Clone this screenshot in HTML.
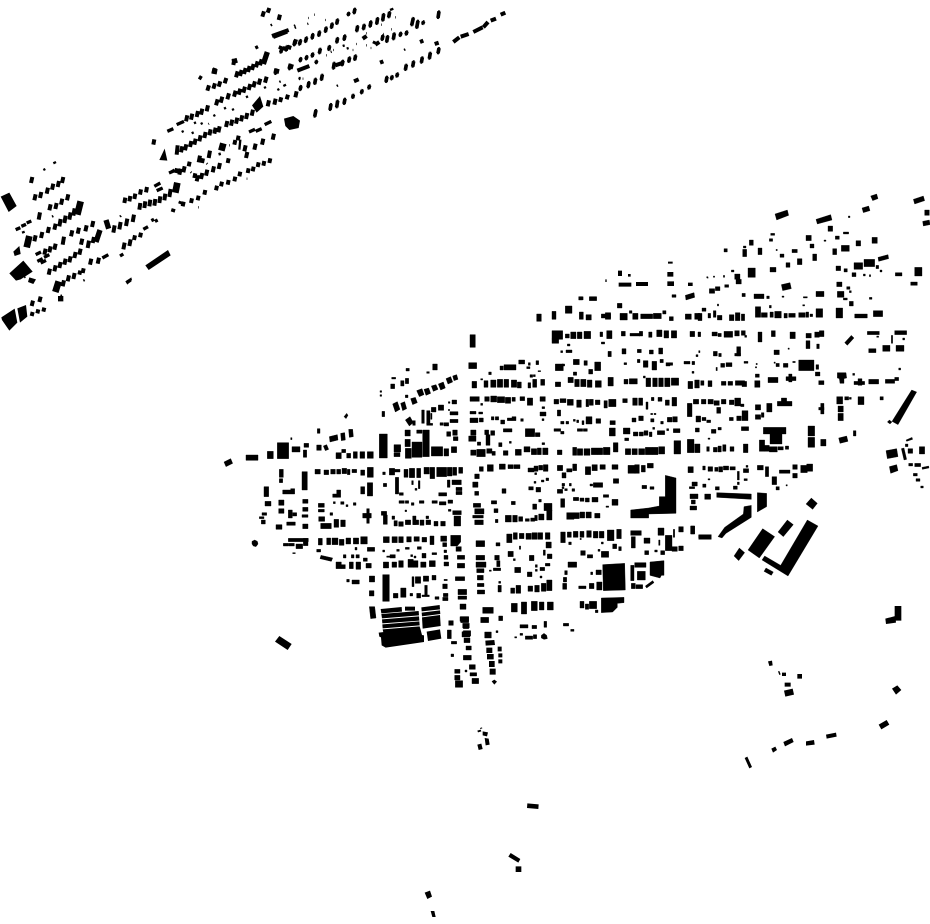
<!DOCTYPE html>
<html><head><meta charset="utf-8"><style>html,body{margin:0;padding:0;background:#fff}svg{display:block}</style></head><body>
<svg width="930" height="924" viewBox="0 0 930 924" xmlns="http://www.w3.org/2000/svg">
<rect width="930" height="924" fill="#fff"/>
<!-- NW cluster, zoom 1 coordinates -->
<g transform="scale(.33333)" fill="none" stroke="#000">
<path stroke-width="12" d="M93 549l4-18M103 601l4-18M120 594l4-18M140 581l4-18M156 569l4-18M173 561l4-18M186 549l4-18M148 631l4-18M166 627l4-18M183 614l4-18M201 601l4-18M116 659l4-22M103 724l4-18M123 714l4-18M143 699l4-18M163 689l4-18M178 679l4-22M193 669l4-22M208 659l4-22M220 647l4-22M133 764l4-18M148 757l4-18M163 749l4-18M188 734l4-24M213 709l4-18M233 701l4-18M256 694l4-18M276 681l4-18M243 734l4-18M263 744l4-22M278 729l4-18M146 824l4-18M163 814l4-18M178 804l4-18M193 794l4-18M208 787l4-18M223 774l4-18M238 764l4-18M270 794l4-18M293 791l4-18M188 859l4-18M203 844l4-18M220 837l4-18M248 819l3-14M238 824l3-12M95 918l4-16M118 906l4-16M95 948l3-12M112 940l3-12M130 935l3-12M558 364l4-18M573 359l4-18M590 351l4-18M603 344l4-18M620 334l4-18M678 381l4-18M693 377l4-18M708 371l4-18M723 364l4-18M738 357l4-18M755 347l4-18M803 319l4-18M823 314l4-18M530 464l3-28M543 457l4-18M555 451l4-18M570 441l4-18M583 434l4-18M598 424l4-18M613 414l4-18M628 406l4-18M643 401l4-18M655 397l4-18M528 519l3-14M538 524l4-18M550 517l4-18M566 499l3-14M596 487l4-20M626 474l4-22M606 489l3-14M713 421l3-14M703 434l3-14M733 454l4-18M763 449l4-18M786 434l4-18M818 419l4-18M738 474l4-18M583 534l3-14M590 544l4-18M603 537l4-18M618 527l4-18M638 517l4-18M656 507l4-18M683 489l3-14M548 619l3-14M573 609l3-14M593 601l3-14M613 584l3-14M648 571l3-14M663 559l3-14M683 554l3-14M703 544l3-14M718 529l3-14M743 519l3-14M758 514l3-14M773 501l3-14M790 497l3-14M808 489l3-14M373 609l3-16M388 604l3-16M403 597l3-16M420 584l3-16M438 577l3-16M418 629l3-20M433 624l3-20M448 619l3-20M463 617l3-20M478 609l3-20M493 601l3-20M508 591l4-24M340 698l4-22M358 688l4-22M378 678l4-22M398 666l4-22M370 748l4-20M388 738l4-20M402 720l3-14M420 712l3-14M787 50l5-16M803 38l5-14M836 60l4-16M708 232l5-18M720 228l5-18M732 222l5-18M744 216l5-18M756 210l5-18M768 202l5-18M780 196l5-18M640 220l5-16M700 195l3-18M622 272l5-16M640 266l5-16M656 260l5-16M674 250l5-16M648 316l5-18M662 308l5-18M682 298l5-18M702 290l5-18M716 284l5-18M730 278l5-18M746 270l5-18M760 262l5-18M776 254l5-18M795 248l5-18M840 306l4-14M860 298l4-14M886 292l4-18M518 636l3-10M540 612l3-8M460 434l3-16M840 148l4-10M852 152l4-12M866 148l4-12M884 132l4-14"/>
<path stroke-width="20" d="M80 742l8-34M232 644l10-40M166 876l10-32M526 578l6-30M664 452l6-22"/>
<path stroke-width="16" d="M288 726l12-36M318 660l8 26M790 192l12-36M706 190l-4-14M642 222l3-16M828 220l3-14M870 206l4-14"/>
<path stroke-width="10" d="M122 789l16-8M132 772l16-8M112 784l16-8M307 774l18-10M107 764l16-8M47 689l14-6M64 679l14-6M80 669l14-6M502 394l18-8M530 374l22-10M747 396l18-8M767 394l18-8M794 374l20-10M507 519l14-6M463 559l18-10M470 572l18-8M430 688l14-8M454 662l8-4M465 664l8-4M820 112l42-16M570 634l0 0M360 768l10-6M380 848l12-8M514 516l10-6M598 238l6-10M766 144l8-4"/>
<path stroke-width="7" d="M718 449l3-30M596 534l3-8M360 650l3-3M250 842l4-2M182 888l4-2M545 396l6-3M575 400l6-3M582 370l6-3M602 372l6-3M625 372l2-1M640 348l6-3M672 326l6-3M696 330l6-3M738 292l6-3M792 264l6-3M832 270l6-3M850 258l8-4M838 246l4-2M812 76l4-2M884 84l4-2M896 238l4-2M658 458l2 8M688 436l2 0M600 478l2 2M620 490l2 2M572 516l2 2M740 536l2 0M594 622l2 0M72 832l4-2M66 698l8-3M156 650l4-2M130 510l6-3M160 490l8-4"/>
</g>
<g transform="scale(.33333)" fill="#000">
<path d="M2 590L28 578 50 618 26 636zM28 820L70 782 98 815 62 838 48 842zM88 832L108 838 100 852 84 846zM40 755L58 738 62 762 44 768zM4 952L44 926 52 968 28 992 6 960zM52 925L78 915 82 950 60 968zM436 796L504 750 512 766 446 810zM376 844L394 832 396 840 382 854zM852 356L880 348 900 362 896 384 868 390 856 378zM756 316L780 288 790 320 770 338zM478 480L494 446 502 482zM174 888h16v16h-16zM150 680h0z"/>
</g>
<!-- NE part of NW cluster, zoom 2 coordinates -->
<g transform="translate(220 0) scale(.33333)" fill="none" stroke="#000" stroke-width="11">
<path id="z2" d="M182 158l4-14M198 152l4-14M222 136l3-14M238 134l4-14M256 126l4-14M276 116l3-14M296 108l3-14M316 96l3-14M334 84l3-14M350 72l3-14M166 222l3-14M208 208l3-14M240 184l3-10M258 178l3-10M276 170l3-10M298 160l3-14M326 150l3-12M350 128l3-14M372 120l3-14M288 190l2-8M340 206l3-18M366 196l3-14M386 186l3-14M404 180l3-14M240 270l3-12M264 262l3-16M284 252l3-16M304 240l3-16M284 350l4-20M330 330l3-18M350 322l3-20M372 312l3-16M398 294l2-10M424 280l3-10M446 266l3-10M498 246l3-16M514 238l3-10M530 230l3-10M556 210l3-16M578 200l3-16M604 188l3-16M628 176l3-18M654 160l3-16M410 94l3-16M430 88l3-14M450 80l3-16M470 72l3-18M488 62l3-20M506 52l3-16M486 120l3-14M500 126l3-18M520 118l3-18M540 108l3-10M558 104l3-10M575 76l5-22M590 84l4-22M608 72l3-8M654 54l3-20M384 46l3-8M402 40l3-14"/>
<use href="#z2" stroke-width="6" stroke-linecap="square"/>
<path stroke-width="12" d="M156 108l50-18M232 212l36-14M346 196l24-8M700 126l18-14M722 110l24-8M760 96l28-14M790 82l14-16M812 62l16-6M842 44l14-6M600 126l10-4M644 132l12-4M480 188l10-4M402 244l14-6M428 116l12-8M462 132l4-8M466 134l12-8"/>
<path stroke-width="7" d="M152 76l4-2M108 144l6-3M222 78l4-2M262 72l3-1M282 44l2 0M264 54l2 0M316 60l2 0M510 30l10-4M526 52l2 0M350 258l4-2M408 132l2 0M438 100l2 0M430 110l2 0M484 74l2 0M490 102l2 0M514 88l2 0M552 150l4-2M438 136l2 0M452 144l2 0M318 166l2 0M332 156l3-1M340 150l2 0M368 138l6-2M380 146l6-2M398 150l2 0M236 234l6 0M248 236l2 0"/>
</g>
<!-- Central cluster west, zoom 3 coordinates -->
<g transform="translate(220 350) scale(.33333)" fill="#000" stroke="#000" stroke-width="1.2">
<path d="M558 55h10v8h-10zM620 65h8v5h-8zM638 42h14v18h-14zM515 82h12v5h-12zM512 102h12v14h-12zM542 92h10v16h-10zM556 85h10v16h-10zM480 122h5v5h-5zM480 134h5v5h-5z
M518 162L532 155 540 178 526 186zM542 160L554 155 560 176 548 182zM556 135h8v8h-8zM572 146L586 142 592 158 578 164zM590 122L606 116 612 134 598 140zM612 118L626 114 632 130 618 136zM634 108L648 104 654 118 640 124zM655 102L670 96 676 114 662 120zM678 86L692 80 698 96 684 102zM698 78L710 74 714 88 702 92z
M696 150h14v12h-14zM685 155h5v5h-5zM655 165h16v16h-16zM634 172h14v14h-14zM690 185h24v10h-24zM690 208h24v10h-24zM685 178h4v4h-4zM605 180h8v40h-8zM620 182h10v40h-10zM632 190h4v18h-4zM486 184h8v16h-8zM372 200l8-10 4 6-6 10z
M556 210L570 200 580 218 568 228zM578 212h8v14h-8zM660 218h10v8h-10zM672 218h14v10h-14zM620 220h18v6h-18zM292 236h8v14h-8zM555 240h16v18h-16zM590 240h16v10h-16zM608 240h20v80h-20zM680 245h12v14h-12zM698 240h14v16h-14zM700 260h14v12h-14z
M386 238h12l2 22-12 2zM362 250l12-2 2 22-12 2zM328 260l24-6 2 16-24 6zM310 288l10-4 6 14-10 4zM290 285h14v16h-14zM212 263h4v6h-4zM252 280h14v12h-14zM172 278h34v48h-34zM216 290h24v16h-24zM78 315h36v16h-36zM142 304h18v22h-18zM12 336L32 326 38 340 18 350zM250 300h10v22h-10zM478 252h24v72h-24zM522 284h20v22h-20zM522 308h18v12h-18zM555 268h16v22h-16zM556 295h18v30h-18zM576 276h30v46h-30zM634 290h34v28h-34zM672 296h14v22h-14zM694 290h16v18h-16zM348 308h16v18h-16zM365 298h12v10h-12zM380 310h12v14h-12zM400 305h12v20h-12zM420 305h14v20h-14zM442 305h18v20h-18z
M285 358h16v14h-16zM312 360h14v14h-14zM332 358h14v14h-14zM350 358h12v14h-12zM366 355h14v16h-14zM382 358h8v16h-8zM396 358h14v10h-14zM422 360h12v16h-12zM442 352h18v30h-18zM488 366h8v8h-8zM508 355h16v20h-16zM524 358h16v8h-16zM552 358h12v24h-12zM568 355h16v28h-16zM590 355h12v28h-12zM612 352h16v20h-16zM630 352h14v34h-14zM650 352h30v28h-30zM682 352h14v26h-14zM698 352h12v24h-12zM716 352h12v18h-12zM178 358h12v24h-12zM178 386h10v12h-10zM246 365h16v55h-16zM132 410h14v30h-14zM422 410h12v22h-12zM442 398h16v40h-16zM490 400h10v10h-10zM526 382h10v50h-10zM538 428h12v8h-12zM575 392h5v12h-5zM595 392h5v24h-5zM585 415h6v6h-6zM682 390h8v22h-8zM696 390h28v14h-28zM708 412h18v10h-18zM708 424h18v10h-18zM656 428h24v10h-24zM188 420h24v12h-24zM212 416h12v16h-12zM350 420h12v22h-12zM338 432h14v10h-14zM135 454h18v14h-18zM176 450h16v16h-16zM248 448h16v12h-16zM340 455h6v6h-6zM362 455h10v8h-10zM378 464h6v6h-6zM400 458h8v8h-8zM295 460h18v12h-18zM295 478h18v8h-18zM330 488h8v8h-8zM296 500h18v14h-18zM537 452h16v8h-16zM556 452h10v8h-10zM574 458h8v8h-8zM598 452h14v8h-14zM636 452h16v8h-16zM658 455h20v10h-20zM684 450h14v10h-14zM126 488h14v8h-14zM118 500h14v6h-14zM124 510h12v12h-12zM176 476h16v14h-16zM205 480h12v24h-12zM218 488h12v10h-12zM248 472h16v12h-16zM246 494h18v8h-18zM440 476h8v44h-8zM428 490h26v14h-26zM484 484h16v12h-16zM490 495h12v28h-12zM516 498h8v10h-8zM522 512h10v16h-10zM536 515h14v14h-14zM556 510h16v14h-16zM578 498h10v26h-10zM580 510h16v14h-16zM600 510h12v16h-12zM618 498h8v8h-8zM618 510h14v14h-14zM642 514h12v14h-12zM662 514h14v14h-14zM702 498h20v30h-20zM685 478h8v6h-8zM698 482h26v12h-26zM555 480h5v5h-5zM200 516h26v10h-26zM168 524h18v14h-18zM248 522h16v14h-16zM302 520h32v16h-32zM342 508h14v24h-14zM362 510h14v20h-14z
M205 565h60v10h-60zM250 565h14v22h-14zM190 580h14v8h-14zM205 580h18v8h-18zM228 582h20v14h-20zM218 608h8v3h-8zM96 574l8-4 8 4 2 8-6 8-8-2-4-6zM295 565h12v20h-12zM320 564h12v20h-12zM336 564h18v20h-18zM358 568h14v18h-14zM378 564h14v18h-14zM400 564h16v18h-16zM422 560h20v22h-20zM490 560h18v18h-18zM516 560h16v18h-16zM536 560h14v18h-14zM560 560h14v16h-14zM582 560h16v14h-16zM606 562h14v14h-14zM630 558h12v26h-12zM662 558h18v16h-18zM692 556h30v20l-10 12h-20zM668 578h12v12h-12zM708 590h16v14h-16zM672 600h8v8h-8zM290 598h12v8h-12zM405 592h6v8h-6zM442 592h22v12h-22zM488 600h6v6h-6zM530 598h8v6h-8zM556 592h12v6h-12zM592 590h12v8h-12z
M303 616L338 624 334 634 300 626zM370 614h8v10h-8zM394 614h8v10h-8zM408 614h10v10h-10zM430 624h12v10h-12zM510 614h16v10h-16zM500 618h10v4h-10zM572 614h6v6h-6zM582 618h6v6h-6zM606 610h12v14h-12zM636 608h14v6h-14zM672 616h12v12h-12zM712 616h22v12h-22zM348 636h16v20h-16zM364 644h12v12h-12zM388 636h12v20h-12zM408 636h14v22h-14zM438 640h16v14h-16zM490 636h16v18h-16zM516 636h14v16h-14zM536 632h14v20h-14zM564 628h16v24h-16zM580 632h14v20h-14zM602 636h16v16h-16zM628 632h18v18h-18zM672 636h14v12h-14zM712 640h22v14h-22zM380 688h8v8h-8zM396 690h22v12h-22zM448 678h16v18h-16zM448 722h14v16h-14zM488 674h20v80h-20zM576 680h6v30h-6zM586 680h16v20h-16zM610 678h16v16h-16zM636 676h12v14h-12zM672 688h10v4h-10zM668 702h14v14h-14zM706 680h28v12h-28zM542 714h16v28h-16zM520 730h14v14h-14zM570 730h8v8h-8zM590 730h12v14h-12zM614 706h8v30h-8zM606 735h22v5h-22zM645 740h12v8h-12zM670 730h14v10h-14zM668 742h16v10h-16zM714 718h26v16h-26zM714 738h26v10h-26zM720 762h18v16h-18z
M448 770h16l4 34-16 2z"/>
<path stroke="none" d="M482 777L545 771 546 785 484 790zM555 770h30v12h-30zM484 792L596 783 597 796 486 805zM486 808L597 799 598 812 487 820zM487 823L598 814 599 826 488 835zM488 838L599 829 600 838 490 847zM604 772L659 765 660 778 605 784zM605 788L660 781 661 792 606 799zM606 802L660 795 662 828 608 836zM620 845L660 838 664 866 624 873zM476 848L600 832 606 855 612 856 612 876 497 893 485 886 483 862 478 860zM178 858L215 882 203 900 165 875z"/>
<path d="M686 812h14v14h-14zM682 840h12v26h-12zM694 874h16v8h-16zM693 912h8v8h-8zM722 800h24v18h-24zM730 822h16v14h-16zM726 845h24v16h-24zM732 864h18v14h-18zM738 888h16v12h-16zM730 916h24v14h-24zM748 944h18v14h-18zM750 968h20v10h-20zM756 985h20v16h-20zM735 960h6v6h-6zM704 958h16v12h-16zM704 976h16v14h-16zM706 992h22v20h-22z"/>
</g>
<!-- Central cluster, zoom 4 coordinates -->
<g transform="translate(460 290) scale(.33333)" fill="#000" stroke="#000" stroke-width="1.2">
<path d="M356 20h12v10h-12zM388 20h22v12h-22zM636 14h12v8h-12zM676 16l26-8 2 14-26 8zM472 40h14v14h-14zM316 48h20v22h-20zM230 72h14v22h-14zM276 64h12v24h-12zM358 66h12v22h-12zM378 74h16v16h-16zM424 72h28v12h-28zM436 68h16v20h-16zM480 70h22v20h-22zM508 62h8v8h-8zM518 70h16v18h-16zM542 72h36v14h-36zM580 70h24v16h-24zM608 62h10v10h-10zM628 80h12v12h-12zM676 72h18v16h-18zM704 70h16v18h-16z
M30 134h16v38h-16zM276 122h32v26h-32zM276 146h20v14h-20zM316 132h12v12h-12zM332 126h16v20h-16zM352 126h14v20h-14zM372 124h20v22h-20zM420 126h8v14h-8zM440 122h16v24h-16zM484 124h12v14h-12zM510 130h30v8h-30zM538 124h10v14h-10zM566 126h10v16h-10zM590 120h16v20h-16zM612 122h14v22h-14zM634 122h16v22h-16zM690 124h14v16h-14zM714 126h8v14h-8zM424 156h10v6h-10zM322 162h8v6h-8zM302 182h6v6h-6zM318 180h18v8h-18zM444 184h10v16h-10zM486 176h12v16h-12zM532 178h12v10h-12zM568 180h12v12h-12zM596 174h12v18h-12zM716 182h4v6h-4z
M26 218h24v18h-24zM176 210h18v12h-18zM120 228h10v12h-10zM132 224h36v16h-36zM205 218h6v8h-6zM228 212h8v12h-8zM200 230h10v6h-10zM234 242h8v3h-8zM286 222h24v20h-24zM306 222h8v6h-8zM340 208h18v16h-18zM372 212h10v14h-10zM404 216h18v26h-18zM492 218h8v6h-8zM532 208h8v10h-8zM550 212h14v20h-14zM576 214h14v26h-14zM600 208h10v10h-10zM618 218h12v10h-12zM630 218h8v8h-8zM672 214h18v8h-18zM696 214h8v10h-8zM708 194h6v6h-6zM86 246h8v8h-8zM340 246h10v10h-10zM386 238h12v14h-12zM696 244h6v6h-6zM210 254h8v8h-8zM220 254h6v6h-6z
M36 274h14v20h-14zM62 266h6v4h-6zM72 272h12v20h-12zM92 270h16v22h-16zM112 268h16v24h-16zM132 268h14v24h-14zM154 270h16v22h-16zM172 276h12v18h-12zM204 278h8v16h-8zM218 268h12v24h-12zM242 268h12v18h-12zM286 276h16v14h-16zM324 262h16v16h-16zM344 268h14v22h-14zM362 268h16v22h-16zM382 270h14v22h-14zM406 272h18v20h-18zM444 262h16v26h-16zM492 268h12v14h-12zM508 266h24v16h-24zM550 258h6v6h-6zM558 264h14v26h-14zM578 264h14v26h-14zM596 264h14v26h-14zM614 264h16v26h-16zM634 264h22v22h-22zM684 274h14v22h-14zM704 270h14v24h-14z
M30 320h28v14h-28zM74 320h14v14h-14zM92 318h18v18h-18zM112 320h22v18h-22zM136 322h16v18h-16zM156 322h10v12h-10zM180 320h14v12h-14zM202 324h16v22h-16zM240 320h16v14h-16zM282 328h14v14h-14zM300 326h18v12h-18zM322 328h18v18h-18zM350 330h14v22h-14zM378 328h8v22h-8zM388 328h12v18h-12zM406 330h14v14h-14zM432 332h10v22h-10zM446 328h22v22h-22zM488 326h14v12h-14zM518 324h14v22h-14zM536 324h12v22h-12zM574 322h8v10h-8zM558 336h6v22h-6zM594 322h12v12h-12zM616 330h12v16h-12zM636 322h14v26h-14zM700 328h16v14h-16zM682 340h14v40h-14z
M62 340h6v6h-6zM246 350h8v6h-8zM30 364h18v8h-18zM56 366h12v6h-12zM240 366h18v12h-18zM292 360h10v18h-10zM572 370h6v4h-6zM582 370h6v4h-6zM30 384h24v14h-24zM58 384h12v12h-12zM94 380h8v10h-8zM106 380h10v10h-10zM122 390h12v12h-12zM142 384h14v8h-14zM156 380h12v12h-12zM182 386h8v8h-8zM246 386h6v6h-6zM302 394h10v8h-10zM318 394h8v8h-8zM340 388h6v6h-6zM350 390h6v8h-6zM366 392h6v12h-6zM378 380h18v22h-18zM408 386h14v14h-14zM450 392h16v12h-16zM516 384h12v12h-12zM536 378h14v14h-14zM572 386h10v10h-10zM602 394h8v8h-8zM622 382h14v14h-14zM638 380h14v16h-14zM708 378h14v18h-14z
M130 416h26v10h-26zM196 416h28v24h-28zM226 428h14v12h-14zM282 416h20v8h-20zM302 424h10v8h-10zM352 416h16v8h-16zM370 416h12v8h-12zM448 414h18v24h-18zM490 414h20v18h-20zM520 426h14v12h-14zM538 426h12v12h-12zM552 422h12v14h-12zM568 426h8v14h-8zM578 412h6v6h-6zM592 422h22v12h-22zM620 416h6v6h-6zM640 416h20v12h-20zM706 414h12v12h-12zM32 420h16v16h-16zM74 420h12v14h-12zM92 422h12v14h-12zM26 438h22v16h-22zM78 434h12v32h-12zM52 456h10v10h-10zM116 458h10v12h-10zM148 454h6v6h-6zM246 458h8v6h-8zM494 444h12v8h-12z
M32 480h16v16h-16zM50 478h26v22h-26zM80 476h16v14h-16zM96 484h10v12h-10zM130 482h14v14h-14zM166 478h18v18h-18zM192 470h18v16h-18zM214 476h16v18h-16zM232 474h12v20h-12zM248 474h16v20h-16zM292 480h14v14h-14zM338 472h12v24h-12zM352 476h16v20h-16zM372 476h18v20h-18zM394 474h18v20h-18zM412 474h16v20h-16zM430 472h20v22h-20zM460 458h14v28h-14zM496 476h16v18h-16zM516 476h16v18h-16zM536 476h18v18h-18zM556 472h22v22h-22zM578 472h16v22h-16zM596 470h18v22h-18zM642 452h20v40h-20zM682 448h20v40h-20zM704 462h16v26h-16z
M58 530h12v14h-12zM82 524h18v20h-18zM118 522h18v16h-18zM144 524h16v12h-16zM162 524h18v12h-18zM204 534h18v12h-18zM222 528h12v16h-12zM236 526h12v14h-12zM250 524h14v20h-14zM292 526h16v16h-16zM320 536h16v10h-16zM338 522h12v20h-12zM376 530h16v24h-16zM396 524h16v18h-16zM420 524h16v14h-16zM456 524h18v14h-18zM504 526h22v24h-22zM524 524h14v26h-14zM544 526h12v20h-12zM562 520h18v14h-18zM684 530h16v18h-16z
M44 552h14v14h-14zM224 548h6v6h-6zM306 548h12v16h-12zM258 564h8v8h-8zM244 570h8v6h-8zM222 574h6v6h-6zM38 576h16v16h-16zM306 580h8v8h-8zM328 580h6v8h-6zM390 582h8v6h-8zM400 578h28v14h-28zM460 566h16v14h-16zM546 586h14v10h-14zM570 590h12v8h-12zM696 576h16v12h-16zM688 590h16v6h-16zM206 590h14v10h-14zM228 592h14v14h-14zM306 590h6v6h-6zM292 598h16v12h-16zM314 596h8v6h-8zM336 596h8v8h-8zM44 604h12v12h-12zM126 596h12v14h-12z
M430 614h16v8h-16zM340 622h16v10h-16zM360 624h12v10h-12zM376 624h12v12h-12zM396 622h18v14h-18zM456 628h18v18h-18zM438 648h8v4h-8zM302 626h12v26h-12zM236 628h8v8h-8zM94 632h16v10h-16zM154 634h12v10h-12zM40 640h22v12h-22zM44 656h28v16h-28zM38 676h32v8h-32zM44 690h26v14h-26zM218 642h12v16h-12zM252 640h24v22h-24zM260 660h16v30h-16zM690 612h24v14h-24zM694 630h12v12h-12zM690 648h20v12h-20zM102 656h12v12h-12zM106 688h8v10h-8zM136 676h18v20h-18zM158 676h14v20h-14zM176 680h12v14h-12zM196 686h12v8h-12zM212 684h12v10h-12zM224 676h8v16h-8zM236 672h16v18h-16zM320 668h22v20h-22zM342 668h16v18h-16zM360 666h14v18h-14zM378 666h16v18h-16zM404 670h16v14h-16z
M616 556L648 564V670L566 672V684H512V660L566 654 598 648V620H616z
M512 722h32v14h-32zM514 740h12v34h-12zM594 714h18v22h-18zM640 718h4v24h-4zM656 710h14v16h-14zM692 708h12v24h-12zM716 736h4v8h-4zM140 732h16v26h-16zM160 728h12v20h-12zM178 730h14v16h-14zM198 730h16v18h-16zM216 728h16v20h-16zM234 728h14v20h-14zM256 728h14v20h-14zM302 726h14v32h-14zM322 726h12v16h-12zM340 724h14v18h-14zM360 724h12v18h-12zM380 722h14v20h-14zM400 724h14v20h-14zM418 724h14v20h-14zM442 720h20v32h-20zM470 718h14v28h-14zM552 744h18v16h-18zM596 750h4v16h-4zM616 736h20v46h-20zM636 770h16v14h-16zM656 768h14v14h-14z
M48 752h26v18h-26zM108 758h12v10h-12zM178 768h4v10h-4zM258 756h16v18h-16zM360 745h4v4h-4zM326 756h8v8h-8zM424 756h6v6h-6zM458 762h12v14h-12zM476 770h8v12h-8zM414 778h6v6h-6zM584 780h8v6h-8zM554 782h12v12h-12zM602 782h12v12h-12zM362 782h14v14h-14zM382 794h16v10h-16zM424 784h22v18h-22zM144 784h16v16h-16zM250 780h6v16h-6zM262 792h14v14h-14zM208 796h14v16h-14zM160 806h6v6h-6zM48 796h26v14h-26zM104 796h14v14h-14zM48 816h30v16h-30zM110 812h10v18h-10zM50 836h22v12h-22zM100 834h22v8h-22zM88 840h6v4h-6zM324 816h26v16h-26zM226 824h6v8h-6zM256 820h14v8h-14zM240 832h14v10h-14zM164 832h18v16h-18zM226 838h6v6h-6zM202 846h14v14h-14zM240 858h6v6h-6zM314 842h8v12h-8z
M428 824L494 820 496 900 430 902zM512 826h10v46h-10zM524 818h34v14h-34zM532 844h24v26h-24zM408 840h16v14h-16zM392 846h6v8h-6zM570 816L612 812V856H604L600 864 570 856z
M52 856h18v14h-18zM52 880h20v10h-20zM52 900h22v12h-22zM116 874h6v6h-6zM114 886h10v20h-10zM152 894h12v16h-12zM168 886h14v24h-14zM204 888h14v16h-14zM224 886h14v20h-14zM244 880h14v24h-14zM260 870h16v32h-16zM310 862h10v14h-10zM308 880h12v18h-12zM356 888h22v8h-22zM388 880h14v16h-14zM410 876h16v24h-16zM514 880h12v16h-12zM528 884h20v12h-20zM556 888L578 872 582 878 560 894z
M154 940h18v26h-18zM184 936h16v36h-16zM214 934h18v28h-18zM238 936h14v24h-14zM262 936h18v24h-18zM360 934h12v20h-12zM376 942h10v16h-10zM388 934h22v22h-22zM406 960h8v8h-8zM424 924L492 922V938L472 940V952L458 966 424 968z
M68 952h32v18h-32zM62 982h24v16h-24zM116 978h12v14h-12zM252 994h8v18h-8zM180 1004h24v10h-24zM216 1006h14v10h-14zM310 1000h16v8h-16zM332 1018h10v6h-10zM74 1026h20v18h-20zM108 1022h6v6h-6zM180 1030h8v6h-8zM196 1038h22v10h-22zM220 1034h10v12h-10zM244 1036l8-6 8 6 2 10-10 2-8-4zM164 1040h6v4h-6zM0 980h26v14h-26zM8 1000h20v14h-20zM10 1022h22v16h-22z"/>
</g>
<!-- South extension of central column -->
<g transform="translate(445 610) scale(.33333)" fill="#000">
<path d="M121 92L148 90 150 105 122 107zM124 113h18v16h-18zM126 132h20v16h-20zM132 153h17v18h-17zM134 176h18v18h-18zM140 214l8-5 8 6-8 9zM158 110h12v14h-12zM160 130h12v12h-12zM160 148h12v12h-12zM18 132h8v8h-8z"/>
</g>
<!-- Row north of central cluster -->
<g transform="translate(540 250) scale(.33333)" fill="#000">
<path d="M384 35h14v6h-14zM234 62h12v16h-12zM264 72h8v8h-8zM196 88h4v8h-4zM236 98h38v12h-38zM288 96h36v12h-36zM382 66h18v14h-18zM382 94h20v14h-20zM444 98h14v10h-14zM502 82h3v3h-3zM118 140h12v10h-12zM150 140h18v10h-18z"/>
</g>
<!-- East cluster, zoom 5 coordinates -->
<g transform="translate(680 190) scale(.33333)" fill="#000" stroke="#000" stroke-width="1">
<path d="M285 72L322 60 326 76 290 90zM408 88L452 74 456 90 412 102zM572 18L590 12 594 26 578 32zM546 54L566 48 570 62 550 68zM700 28L730 18 734 32 704 42zM734 60h14v16h-14zM728 94L748 90 750 104 730 108zM505 78h5v5h-5zM444 108h14v16h-14zM272 130h12v6h-12zM268 146h10v8h-10zM190 168h8v6h-8zM208 150h12v16h-12zM132 176h10v10h-10zM188 178h12v22h-12zM234 174h12v20h-12zM288 178h4v4h-4zM300 192h12v10h-12zM336 178h16v10h-16zM378 136h16v16h-16zM390 162h12v12h-12zM432 150h6v4h-6zM466 138h12v10h-12zM490 126h16v6h-16zM528 152h14v16h-14zM576 142h16v18h-16zM484 166h24v18h-24zM458 176h12v18h-12zM398 192h12v20h-12zM352 206h14v18h-14zM318 218h12v14h-12zM270 232h18v14h-18zM204 234h22v28h-22zM164 252h16v16h-16zM168 268h16v14h-16zM154 240h8v6h-8zM80 260h4v4h-4zM100 258h4v4h-4zM130 256h4v6h-4zM468 228h14v14h-14zM492 236h10v10h-10zM522 218h26v20h-26zM552 208h32v22h-32zM594 202l30-8 2 12-30 8zM588 226h8v10h-8zM600 240h6v6h-6zM516 248h12v12h-12zM550 252h6v6h-6zM568 254h4v6h-4zM646 248h20v10h-20zM704 232h22v26h-22zM692 276h20v10h-20zM88 296h16v14h-16zM106 290h14v12h-14zM134 284h12v8h-12zM304 284L330 278 334 296 308 302zM186 310h10v10h-10zM222 312h30v14h-30zM260 318h8v8h-8zM306 318h6v4h-6zM370 320h12v4h-12zM408 304h24v16h-24zM470 276h16v14h-16zM500 290h10v8h-10zM508 302h6v6h-6zM472 304h20v18h-20zM490 324h12v6h-12zM508 334h12v14h-12zM568 322h8v6h-8zM112 342h4v6h-4zM66 354h12v10h-12zM268 346h6v8h-6zM368 344h6v4h-6z
M54 370h12v22h-12zM84 370h8v14h-8zM100 362h8v20h-8zM112 376h14v14h-14zM148 374h14v18h-14zM166 368h14v24h-14zM184 372h10v20h-10zM226 350h16v32h-16zM244 368h18v14h-18zM270 366h10v16h-10zM284 364h20v20h-20zM312 370h10v14h-10zM326 370h20v12h-20zM356 368h20v14h-20zM378 366h8v16h-8zM390 372h8v8h-8zM408 356h20v26h-20zM468 354h20v30h-20zM524 372h38v12h-38zM580 362h28v18h-28z
M96 426h16v12h-16zM114 430h10v10h-10zM132 424h26v18h-26zM164 422h14v16h-14zM184 422h12v14h-12zM194 436h6v6h-6zM234 426h12v30h-12zM274 422h12v18h-12zM330 426h16v20h-16zM378 430h16v14h-16zM404 426h14v16h-14zM418 422h14v18h-14zM378 452h12v24h-12zM410 462h8v14h-8zM494 458L514 436 522 444 502 466zM562 424h36v10h-36zM590 438h6v4h-6zM644 422h36v12h-36zM634 436h4v24h-4zM668 444h6v6h-6zM100 484h12v14h-12zM116 490h8v10h-8zM170 470h12v28h-12zM164 490h18v8h-18zM282 480h16v14h-16zM324 474h4v4h-4zM566 476h22v12h-22zM608 466h22v18h-22zM648 466h24v18h-24z
M122 520h12v12h-12zM138 518h18v12h-18zM108 532h4v10h-4zM192 514h12v6h-12zM228 520h4v4h-4zM226 530h4v4h-4zM282 516h4v4h-4zM288 520h10v10h-10zM310 520h14v12h-14zM338 514h8v4h-8zM356 510h46v32h-46zM408 524h8v14h-8zM226 552h12v10h-12zM318 560h30v12h-30zM326 552h10v24h-10zM264 562h30v16h-30zM224 572h16v20h-16zM62 572h10v14h-10zM84 572h12v18h-12zM124 574h14v12h-14zM144 574h14v12h-14zM166 572h28v14h-28zM186 574h14v16h-14zM406 546h14v12h-14zM416 572h16v12h-16zM472 548h26l2 16-8 2v14h-12l-2-14-6-2zM518 550h6v6h-6zM522 574h32v10h-32zM534 566h12v20h-12zM566 568h30v14h-30zM616 568h28v12h-28zM644 562h12v10h-12zM656 534h6v6h-6zM695 600L710 606 654 704 636 694zM622 696l6-6 8 6-6 6z
M470 620h18v22h-18zM494 620h12v10h-12zM508 622h6v6h-6zM534 620h18v24h-18zM600 620h10v10h-10zM292 634h44v14h-44zM304 624h16v10h-16zM64 628h14v14h-14zM84 628h16v14h-16zM102 632h16v14h-16zM124 628h14v14h-14zM148 630h14v14h-14zM164 624h18v24h-18zM182 642h10v8h-10zM226 644h16v16h-16zM260 640h16v26h-16zM110 652h12v18h-12zM474 648h16v18h-16zM474 670h16v22h-16zM416 652h16v8h-16zM422 640h10v32h-10zM66 682h12v10h-12zM80 690h12v8h-12zM148 682h12v10h-12zM170 678h14v14h-14zM186 662h18v30h-18zM226 674h16v14h-16zM244 668h8v14h-8zM94 718h14v12h-14zM114 712h10v8h-10zM184 710h22v12h-22zM250 712h68v20h-68zM270 730h36v32h-36zM238 750h16v34h-16zM254 766h14v18h-14zM268 770h24v16h-24zM294 770h16v10h-16zM316 768h10v10h-10zM384 708h20v30h-20zM384 742h20v30h-20zM422 748h16v20h-16zM476 744L500 738 504 754 480 760zM520 722h8v16h-8zM80 770h8v14h-8zM100 772h12v14h-12zM114 768h10v18h-10zM128 764h10v20h-10zM150 770h12v14h-12zM190 762h14v26h-14zM84 744h6v4h-6z
M618 782L650 776 654 800 622 806zM664 776L672 774 680 808 672 810zM678 750L696 742 698 748 680 754zM676 762h8v8h-8zM684 776h14v14h-14zM718 770h16v22h-16zM628 830L650 824 654 842 632 850zM686 820h12v8h-12zM704 820h18v10h-18zM726 832L746 828 747 834 727 838zM700 850h12v8h-12zM708 866h12v8h-12zM722 888h8v6h-8z
M68 828h8v12h-8zM84 830h14v14h-14zM104 832h10v12h-10zM116 830h12v16h-12zM130 828h16v12h-16zM150 830h16v10h-16zM172 844h6v26h-6zM192 866h10v6h-10zM190 836h16v12h-16zM198 826h6v6h-6zM232 826h18v14h-18zM256 830h10v30h-10zM298 840h32v10h-32zM338 824h14v14h-14zM338 850h14v14h-14zM362 826h20v22h-20zM380 822h18v22h-18zM276 860h14v24h-14zM288 890h10v10h-10zM318 884h4v4h-4zM68 882h10v10h-10zM84 866h6v4h-6zM106 890h12v10h-12zM160 888h12v10h-12zM172 876h6v8h-6zM74 912h18v16h-18z
M110 908L214 912V928L110 922zM232 908L260 910V950L232 966zM192 950L214 946V982L138 1030 126 1044 114 1040 134 1012 190 972zM56 1034h38v14h-38zM32 1008h12v24h-12zM394 924L412 940 398 958 378 942zM322 990L340 1004 310 1040 294 1026zM248 1016L284 1040 238 1104 204 1080zM382 990L414 1008 324 1158 246 1110 254 1098 302 1126zM178 1074L194 1088 176 1112 162 1098zM258 1134L280 1146 274 1156 252 1144z"/>
</g>
<!-- South-east outliers, zoom 6 coordinates -->
<g transform="translate(740 600) scale(.33333)" fill="#000">
<path d="M464 18h20v44h-20zM436 56L466 48 468 68 438 72zM84 184l12-2 2 14-10 2zM114 214l4-1 4 10-4 2zM126 218h12v10h-12zM172 222h14v14h-14zM134 248h18v12h-18zM132 272L158 266 162 284 136 290zM456 266L472 256 484 270 468 284zM416 374L440 360 448 374 424 388zM258 404L288 398 290 410 260 416zM198 424L222 420 224 434 198 437zM130 426L156 414 161 426 135 439zM94 446L106 440 111 450 99 458zM14 474L22 470 36 501 28 505z"/>
</g>
<!-- South outliers, zoom 7 coordinates -->
<g transform="translate(420 720) scale(.33333)" fill="#000">
<path d="M180 24l6-2 1 3-6 2zM172 32l10-3 2 5-10 3zM188 34l16 3-3 12-13-3zM194 54l12 2 3 18-12 2zM172 74l12-3 4 16-12 3zM322 250L356 253 355 267 321 264zM272 399L301 417 295 428 265 410zM287 439h17v17h-17zM14 518L30 512 36 530 22 537zM32 573h11l4 18h-10z"/>
</g>
</svg>
</body></html>
